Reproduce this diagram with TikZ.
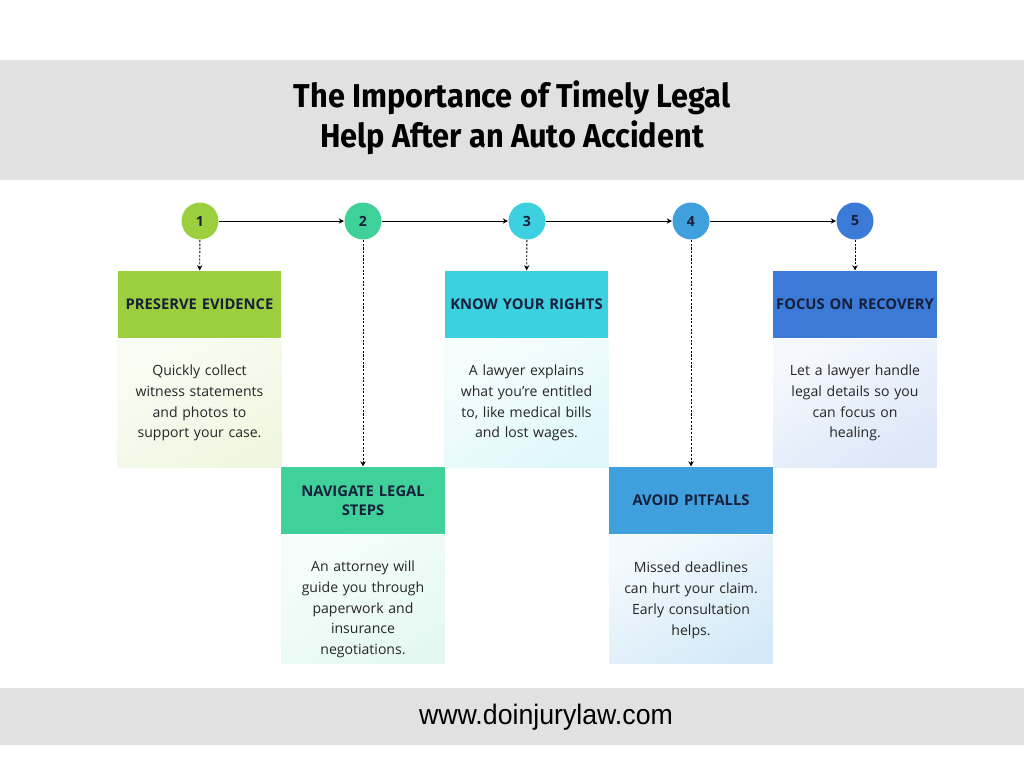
\documentclass[tikz,border=0pt]{standalone}
\usepackage{fontspec}
\setmainfont{Open Sans}
\newfontfamily\titlefont[FakeStretch=0.93]{Fira Sans}
\newfontfamily\urlfont[FakeStretch=0.95]{Liberation Sans}
\usepackage{xcolor}
\usetikzlibrary{
  arrows.meta,
  positioning
}
\definecolor{bandgray}{HTML}{E1E1E1}
\definecolor{navy}{HTML}{16203A}
\definecolor{bodytext}{HTML}{262626}
\definecolor{cone}{HTML}{9BCF3E}
\definecolor{ctwo}{HTML}{40D09A}
\definecolor{cthree}{HTML}{3DD0E0}
\definecolor{cfour}{HTML}{40A0DE}
\definecolor{cfive}{HTML}{3C7AD8}
\tikzset{
  >={Stealth[length=3pt,width=3pt]},
  line cap=round,
  line join=round,
  every picture/.style={line width=0.6pt},
  stepnum/.style={circle, minimum size=0.74cm, inner sep=0pt, text=navy, font=\bfseries\fontsize{8}{9}\selectfont},
  headbox/.style={rectangle, minimum width=3.28cm, minimum height=1.34cm, text width=3.26cm, inner sep=0pt, align=center, text=navy, font=\bfseries\fontsize{8.4}{10.8}\selectfont},
  bodybox/.style={rectangle, minimum width=3.28cm, minimum height=2.56cm, inner sep=0pt},
  bodytxt/.style={text width=3.1cm, inner sep=0pt, align=center, anchor=north, text=bodytext, font=\fontsize{8}{11.9}\selectfont},
  link/.style={->, line width=0.5pt},
  drop/.style={->, line width=0.5pt, dash pattern=on 1.2pt off 0.9pt}
}

\begin{document}
\begin{tikzpicture}[x=0.02cm, y=-0.02cm]
\useasboundingbox (0,0) rectangle (1024,768);

% bands
\fill[bandgray] (0,60) rectangle (1024,180);
\fill[bandgray] (0,688) rectangle (1024,745);

% title
\node[align=center, font=\titlefont\bfseries\fontsize{18.8}{22.7}\selectfont] (title) at (512,118)
  {The Importance of Timely Legal\\Help After an Auto Accident};

% step circles
\node[stepnum, fill=cone]   (n1) at (200,221) {1};
\node[stepnum, fill=ctwo]   (n2) at (363,221) {2};
\node[stepnum, fill=cthree] (n3) at (527,221) {3};
\node[stepnum, fill=cfour]  (n4) at (691,221) {4};
\node[stepnum, fill=cfive]  (n5) at (855,221) {5};

% headers
\node[headbox, fill=cone]   (h1) at (199.5,304.5) {PRESERVE EVIDENCE};
\node[headbox, fill=ctwo]   (h2) at (363,500.5) {NAVIGATE LEGAL\\STEPS};
\node[headbox, fill=cthree] (h3) at (526.5,304.5) {KNOW YOUR RIGHTS};
\node[headbox, fill=cfour]  (h4) at (691,500.5) {AVOID PITFALLS};
\node[headbox, fill=cfive]  (h5) at (855,304.5) {FOCUS ON RECOVERY};

% bodies
\node[bodybox, below=0pt of h1, top color=cone!6, bottom color=cone!16, shading angle=30]     (b1) {};
\node[bodybox, below=0pt of h2, top color=ctwo!5, bottom color=ctwo!14, shading angle=30]     (b2) {};
\node[bodybox, below=0pt of h3, top color=cthree!5, bottom color=cthree!16, shading angle=30] (b3) {};
\node[bodybox, below=0pt of h4, top color=cfour!6, bottom color=cfour!22, shading angle=30]   (b4) {};
\node[bodybox, below=0pt of h5, top color=cfive!5, bottom color=cfive!18, shading angle=30]   (b5) {};

\node[bodytxt] (t1) at ([yshift=-14.5pt]b1.north) {Quickly collect\\witness statements\\and photos to\\support your case.};
\node[bodytxt] (t2) at ([yshift=-14.5pt]b2.north) {An attorney will\\guide you through\\paperwork and\\insurance\\negotiations.};
\node[bodytxt] (t3) at ([yshift=-14.5pt]b3.north) {A lawyer explains\\what you're entitled\\to, like medical bills\\and lost wages.};
\node[bodytxt] (t4) at ([yshift=-15.5pt]b4.north) {Missed deadlines\\can hurt your claim.\\Early consultation\\helps.};
\node[bodytxt] (t5) at ([yshift=-14.5pt]b5.north) {Let a lawyer handle\\legal details so you\\can focus on\\healing.};

% connectors
\draw[link] (n1) -- (n2);
\draw[link] (n2) -- (n3);
\draw[link] (n3) -- (n4);
\draw[link] (n4) -- (n5);
\foreach \i in {1,...,5}
  \draw[drop] (n\i) -- (h\i);

% footer
\node[font=\urlfont\fontsize{16}{18}\selectfont] (url) at (546,717) {www.doinjurylaw.com};

\end{tikzpicture}
\end{document}
